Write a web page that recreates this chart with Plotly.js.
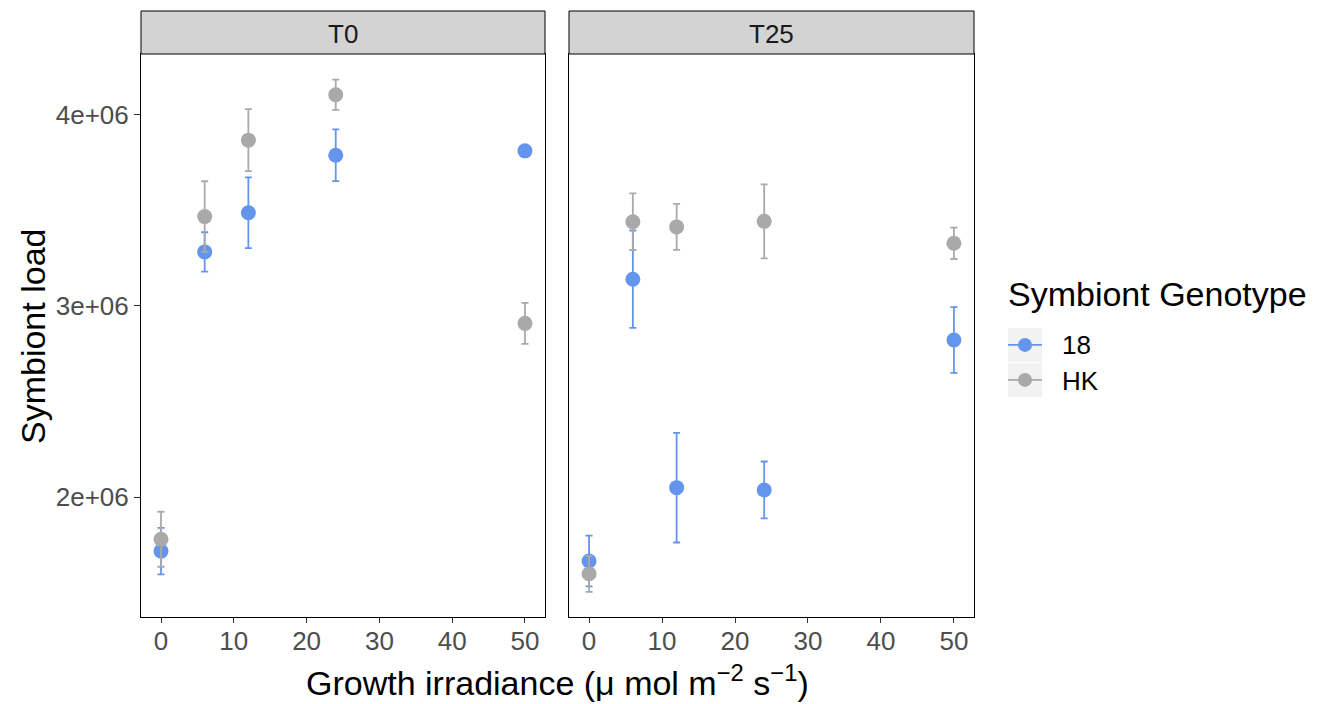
<!DOCTYPE html>
<html>
<head>
<meta charset="utf-8">
<script src="https://cdn.plot.ly/plotly-3.0.1.min.js"></script>
<style>html,body{margin:0;padding:0;background:#fff;}#chart{width:1320px;height:704px;}</style>
</head>
<body>
<div id="chart"></div>
<script>
// ---- data ----
const panels = ["T0", "T25"];
const genotypes = ["18", "HK"];
const legendTitle = "Symbiont Genotype";
const irradiance = [0, 6, 12, 24, 50];

const t0_18 = [1717000, 3283000, 3488000, 3789000, 3812000];
const t0_18_err = [122000, 103000, 185000, 135000, 8000];
const t0_HK = [1779000, 3468000, 3868000, 4106000, 2909000];
const t0_HK_err = [144000, 185000, 162000, 79000, 107000];

const t25_18 = [1665000, 3140000, 2049000, 2037000, 2822000];
const t25_18_err = [133000, 255000, 287000, 149000, 172000];
const t25_HK = [1598000, 3441000, 3414000, 3443000, 3328000];
const t25_HK_err = [94000, 148000, 120000, 194000, 82000];

const yTickVals = [2000000, 3000000, 4000000];
const yTickText = ["2e+06", "3e+06", "4e+06"];
const xTickVals = [0, 10, 20, 30, 40, 50];

const colors = {"18": "#6495ED", "HK": "#A9A9A9"};
const FONT = "Liberation Sans, Arial, sans-serif";

function tr(x, y, err, g, xa, ya) {
  return {
    type: "scatter", mode: "markers", x: x, y: y,
    xaxis: xa, yaxis: ya, showlegend: false, name: g,
    marker: {color: colors[g], size: 15},
    error_y: {type: "data", array: err, visible: true, color: colors[g], thickness: 1.8, width: 3.5},
    hoverinfo: "x+y"
  };
}
// legend key symbols (labels are placed as annotations to match the reference spacing)
function legendTrace(g, lg) {
  return {
    type: "scatter", mode: "lines+markers", x: [null], y: [null],
    xaxis: "x", yaxis: "y", name: "", showlegend: true, legend: lg,
    marker: {color: colors[g], size: 14}, line: {color: colors[g], width: 1.8}
  };
}

const data = [
  tr(irradiance, t0_18, t0_18_err, "18", "x", "y"),
  tr(irradiance, t0_HK, t0_HK_err, "HK", "x", "y"),
  tr(irradiance, t25_18, t25_18_err, "18", "x2", "y2"),
  tr(irradiance, t25_HK, t25_HK_err, "HK", "x2", "y2"),
  legendTrace(genotypes[0], "legend"),
  legendTrace(genotypes[1], "legend2")
];

const W = 1320, H = 704;
const px = v => v / W, py = v => 1 - v / H;
const p1 = [141, 545], p2 = [569, 974], pTop = 54, pBot = 617, sTop = 11;

function tf() { return {family: FONT, size: 26, color: "#4D4D4D"}; }
function baseX() {
  return {
    range: [-2.75, 52.75], tickvals: xTickVals, ticks: "outside", ticklen: 5, tickwidth: 1, tickcolor: "#333333",
    showgrid: false, zeroline: false, showline: true, linecolor: "#000000", linewidth: 1, mirror: true,
    tickfont: tf(), ticklabelstandoff: -4
  };
}
function baseY() {
  return {
    range: [1372000, 4319000], tickvals: yTickVals, ticktext: yTickText, ticks: "outside", ticklen: 6, tickwidth: 1,
    tickcolor: "#333333", showgrid: false, zeroline: false, showline: true, linecolor: "#000000", linewidth: 1,
    mirror: true, tickfont: tf()
  };
}

const keyRows = [345, 380];
function legendBox(yc) {
  return {
    x: px(1003), y: py(yc), xanchor: "left", yanchor: "middle",
    font: {family: FONT, size: 26, color: "#000000"}, bgcolor: "rgba(0,0,0,0)", borderwidth: 0, itemwidth: 34
  };
}

const layout = {
  width: W, height: H,
  margin: {l: 0, r: 0, t: 0, b: 0},
  paper_bgcolor: "#FFFFFF", plot_bgcolor: "#FFFFFF",
  font: {family: FONT},
  xaxis: Object.assign(baseX(), {domain: [px(p1[0]), px(p1[1])], anchor: "y"}),
  yaxis: Object.assign(baseY(), {domain: [py(pBot), py(pTop)], anchor: "x"}),
  xaxis2: Object.assign(baseX(), {domain: [px(p2[0]), px(p2[1])], anchor: "y2"}),
  yaxis2: Object.assign(baseY(), {domain: [py(pBot), py(pTop)], anchor: "x2", matches: "y", showticklabels: false, ticks: ""}),
  showlegend: true,
  legend: legendBox(keyRows[0]),
  legend2: legendBox(keyRows[1]),
  shapes: [
    {type: "rect", xref: "paper", yref: "paper", x0: px(p1[0]), x1: px(p1[1]), y0: py(pTop), y1: py(sTop),
     fillcolor: "#D3D3D3", line: {color: "#000000", width: 1}},
    {type: "rect", xref: "paper", yref: "paper", x0: px(p2[0]), x1: px(p2[1]), y0: py(pTop), y1: py(sTop),
     fillcolor: "#D3D3D3", line: {color: "#000000", width: 1}}
  ].concat(keyRows.map(c => ({type: "rect", xref: "paper", yref: "paper", layer: "below",
     x0: px(1008), x1: px(1042), y0: py(c + 17), y1: py(c - 17), fillcolor: "#F2F2F2", line: {width: 0}}))),
  annotations: [
    {text: panels[0], xref: "paper", yref: "paper", x: px((p1[0] + p1[1]) / 2), y: py((sTop + pTop) / 2 + 1),
     showarrow: false, font: {family: FONT, size: 26, color: "#1A1A1A"}, xanchor: "center", yanchor: "middle"},
    {text: panels[1], xref: "paper", yref: "paper", x: px((p2[0] + p2[1]) / 2), y: py((sTop + pTop) / 2 + 1),
     showarrow: false, font: {family: FONT, size: 26, color: "#1A1A1A"}, xanchor: "center", yanchor: "middle"},
    {text: legendTitle, xref: "paper", yref: "paper", x: px(1006), y: py(294),
     showarrow: false, font: {family: FONT, size: 34, color: "#000000"}, xanchor: "left", yanchor: "middle"},
    {text: genotypes[0], xref: "paper", yref: "paper", x: px(1060), y: py(keyRows[0]),
     showarrow: false, font: {family: FONT, size: 26, color: "#000000"}, xanchor: "left", yanchor: "middle"},
    {text: genotypes[1], xref: "paper", yref: "paper", x: px(1060), y: py(keyRows[1] + 1),
     showarrow: false, font: {family: FONT, size: 26, color: "#000000"}, xanchor: "left", yanchor: "middle"},
    {text: "Symbiont load", xref: "paper", yref: "paper", x: px(33), y: py(337), textangle: -90,
     showarrow: false, font: {family: FONT, size: 34, color: "#000000"}, xanchor: "center", yanchor: "middle"},
    {text: "Growth irradiance (\u03bc mol m<sup>\u22122</sup> s<sup>\u22121</sup>)", xref: "paper", yref: "paper",
     x: px(557), y: py(680), showarrow: false, font: {family: FONT, size: 34, color: "#000000"}, xanchor: "center", yanchor: "middle"}
  ]
};

Plotly.newPlot("chart", data, layout, {displayModeBar: false, staticPlot: true});
</script>
</body>
</html>
